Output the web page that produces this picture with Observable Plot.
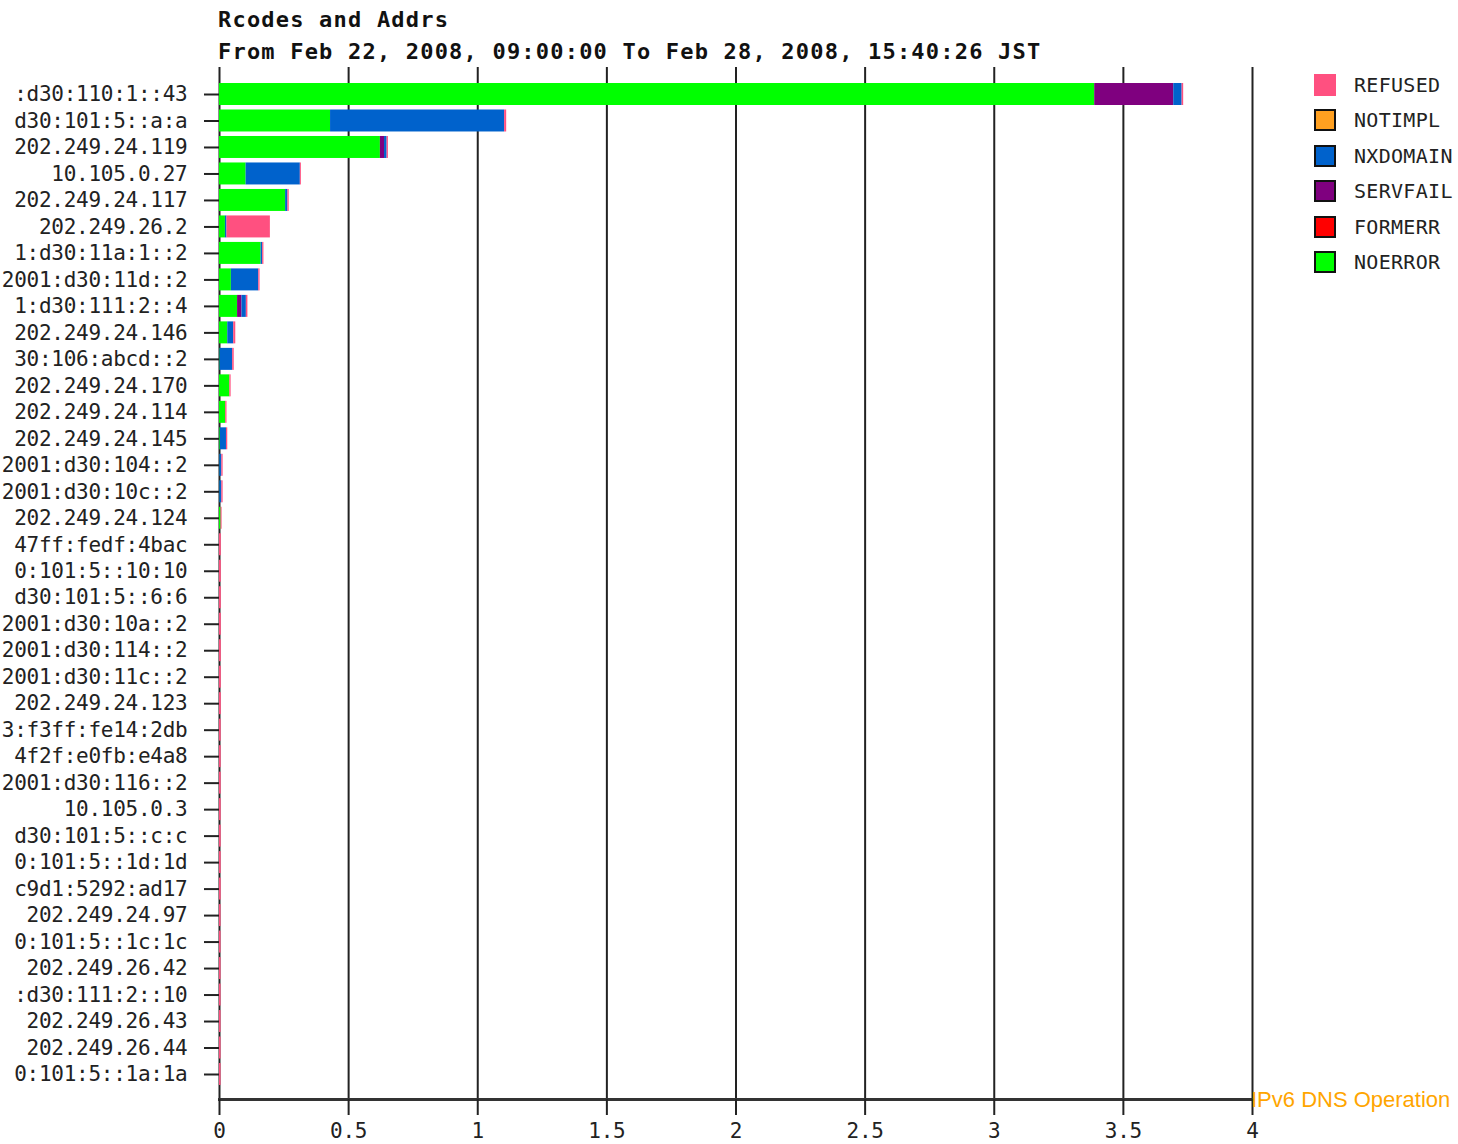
<!DOCTYPE html>
<html>
<head>
<meta charset="utf-8">
<script src="https://cdn.jsdelivr.net/npm/d3@7"></script>
<script src="https://cdn.jsdelivr.net/npm/@observablehq/plot@0.6"></script>
<style>
  html, body { margin: 0; padding: 0; background: #fff; }
  #wrap { position: relative; width: 1458px; height: 1144px; overflow: hidden; background: #fff; }
  #chart { position: absolute; left: 0; top: 0; }
  .ttl { position: absolute; left: 218px; font-family: "DejaVu Sans Mono", monospace; font-weight: bold;
         font-size: 22px; line-height: 22px; letter-spacing: 1.2px; color: #111; white-space: pre; }
  #legend { position: absolute; left: 1314px; top: 74px; font-family: "DejaVu Sans Mono", monospace;
            font-size: 20px; letter-spacing: 0.3px; color: #222; }
  .lrow { display: flex; align-items: center; height: 22px; margin-bottom: 13.4px; }
  .sw { width: 22px; height: 22px; box-sizing: border-box; border: 2px solid #111; }
  .lt { margin-left: 18px; line-height: 22px; white-space: pre; }
  #caption { position: absolute; left: 1251px; top: 1089px; font-family: "Liberation Sans", Arial, sans-serif;
             font-size: 22px; line-height: 22px; color: #ffa500; white-space: pre; }
</style>
</head>
<body>
<div id="wrap">
  <div id="chart"></div>
  <div class="ttl" id="title" style="top:9px"></div>
  <div class="ttl" id="subtitle" style="top:41px"></div>
  <div id="legend"></div>
  <div id="caption"></div>
</div>
<script>
const titleText = "Rcodes and Addrs";
const subtitleText = "From Feb 22, 2008, 09:00:00 To Feb 28, 2008, 15:40:26 JST";
const captionText = "IPv6 DNS Operation";

const addrs = [
  ":d30:110:1::43", "d30:101:5::a:a", "202.249.24.119", "10.105.0.27", "202.249.24.117",
  "202.249.26.2", "1:d30:11a:1::2", "2001:d30:11d::2", "1:d30:111:2::4", "202.249.24.146",
  "30:106:abcd::2", "202.249.24.170", "202.249.24.114", "202.249.24.145", "2001:d30:104::2",
  "2001:d30:10c::2", "202.249.24.124", "47ff:fedf:4bac", "0:101:5::10:10", "d30:101:5::6:6",
  "2001:d30:10a::2", "2001:d30:114::2", "2001:d30:11c::2", "202.249.24.123", "3:f3ff:fe14:2db",
  "4f2f:e0fb:e4a8", "2001:d30:116::2", "10.105.0.3", "d30:101:5::c:c", "0:101:5::1d:1d",
  "c9d1:5292:ad17", "202.249.24.97", "0:101:5::1c:1c", "202.249.26.42", ":d30:111:2::10",
  "202.249.26.43", "202.249.26.44", "0:101:5::1a:1a"
];

// stacking order, left to right
const rcodes = ["NOERROR", "FORMERR", "SERVFAIL", "NXDOMAIN", "NOTIMPL", "REFUSED"];
const rcodeColors = ["#00ff00", "#ff0000", "#7f007f", "#0062cc", "#ffa020", "#ff5080"];

const NOERROR = [3.389, 0.430, 0.623, 0.103, 0.256, 0.023, 0.161, 0.046, 0.070, 0.032,
                 0.002, 0.040, 0.024, 0.003, 0.001, 0.001, 0.006, 0, 0, 0,
                 0, 0, 0, 0, 0, 0, 0, 0, 0, 0,
                 0, 0, 0, 0, 0, 0, 0, 0];
const FORMERR = new Array(38).fill(0);
const SERVFAIL = [0.306, 0, 0.016, 0, 0, 0, 0, 0, 0.017, 0,
                  0, 0, 0, 0, 0, 0, 0, 0, 0, 0,
                  0, 0, 0, 0, 0, 0, 0, 0, 0, 0,
                  0, 0, 0, 0, 0, 0, 0, 0];
const NXDOMAIN = [0.0325, 0.674, 0.010, 0.210, 0.009, 0.006, 0.006, 0.106, 0.017, 0.023,
                  0.049, 0, 0, 0.024, 0.008, 0.008, 0, 0, 0, 0,
                  0, 0, 0, 0, 0, 0, 0, 0, 0, 0,
                  0, 0, 0, 0, 0, 0, 0, 0];
const NOTIMPL = new Array(38).fill(0);
const REFUSED = [0.006, 0.008, 0.005, 0.004, 0.005, 0.168, 0.005, 0.005, 0.006, 0.008,
                 0.006, 0.005, 0.005, 0.005, 0.005, 0.005, 0.004, 0.007, 0.007, 0.007,
                 0.007, 0.007, 0.007, 0.007, 0.0065, 0.0065, 0.0065, 0.0065, 0.0065, 0.0065,
                 0.0065, 0.006, 0.006, 0.006, 0.006, 0.006, 0.006, 0.006];

const xTicks = [0, 0.5, 1, 1.5, 2, 2.5, 3, 3.5, 4];

const series = {NOERROR, FORMERR, SERVFAIL, NXDOMAIN, NOTIMPL, REFUSED};
const data = [];
addrs.forEach((a, i) => {
  rcodes.forEach(r => {
    const v = series[r][i];
    if (v > 0) data.push({addr: a, rcode: r, value: v});
  });
});

const chart = Plot.plot({
  width: 1458,
  height: 1144,
  marginLeft: 219,
  marginRight: 206,
  marginTop: 67,
  marginBottom: 45,
  style: {fontFamily: "DejaVu Sans Mono, monospace", fontSize: "21px", letterSpacing: "-0.26px", color: "#222", background: "#fff"},
  x: {domain: [0, 4], label: null},
  y: {domain: addrs, label: null, round: false, paddingInner: 0.17, paddingOuter: 0.085, insetTop: 13.76, insetBottom: 11.76},
  color: {domain: rcodes, range: rcodeColors},
  marks: [
    Plot.ruleX(xTicks, {stroke: "#222", strokeWidth: 2}),
    Plot.barX(data, {x: "value", y: "addr", fill: "rcode"}),
    Plot.frame({anchor: "bottom", stroke: "#333", strokeWidth: 3}),
    Plot.axisX({ticks: xTicks, tickSize: 16, tickPadding: 8, tickFormat: d => String(d), strokeWidth: 2, stroke: "#222", fill: "#222", fontSize: 21}),
    Plot.axisY({tickSize: 15, tickPadding: 17, strokeWidth: 2, stroke: "#222", fill: "#222", fontSize: 21})
  ]
});
document.getElementById("chart").appendChild(chart);

document.getElementById("title").textContent = titleText;
document.getElementById("subtitle").textContent = subtitleText;
document.getElementById("caption").textContent = captionText;

const legend = document.getElementById("legend");
rcodes.slice().reverse().forEach(r => {
  const row = document.createElement("div");
  row.className = "lrow";
  const sw = document.createElement("div");
  sw.className = "sw";
  const c = rcodeColors[rcodes.indexOf(r)];
  sw.style.background = c;
  if (r === "REFUSED") sw.style.border = "none";
  const t = document.createElement("div");
  t.className = "lt";
  t.textContent = r;
  row.appendChild(sw);
  row.appendChild(t);
  legend.appendChild(row);
});
</script>
</body>
</html>
